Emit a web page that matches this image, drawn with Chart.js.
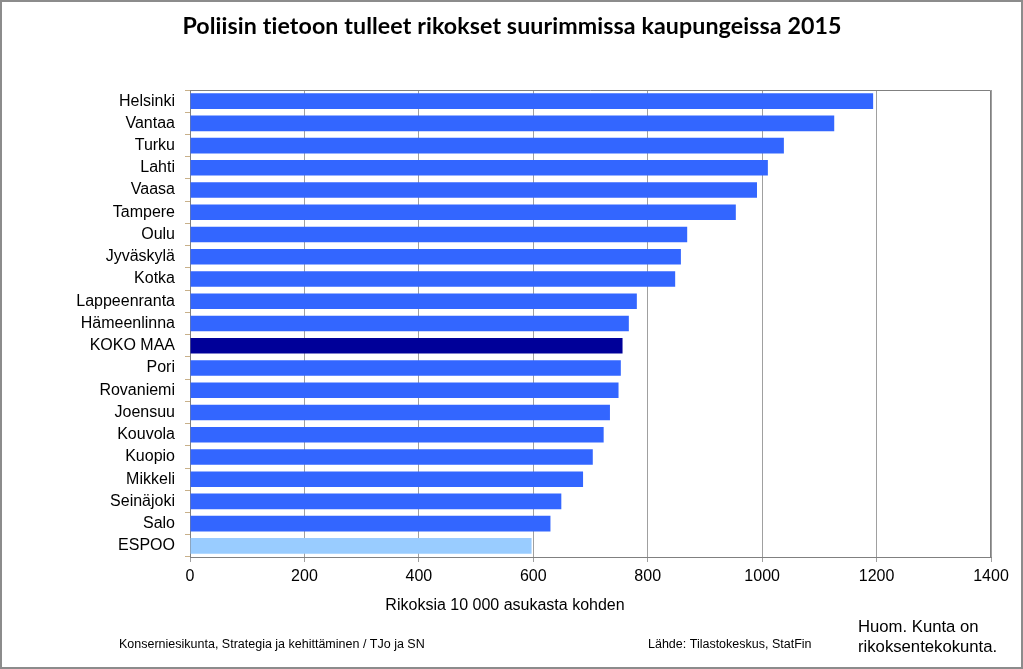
<!DOCTYPE html>
<html>
<head>
<meta charset="utf-8">
<script src="https://cdn.jsdelivr.net/npm/chart.js@4"></script>
<style>
  html, body { margin: 0; padding: 0; background: #fff; }
  canvas { display: block; }
</style>
</head>
<body>
<canvas id="myChart" width="1023" height="669"></canvas>
<script>
// Data
const cities = ["Helsinki", "Vantaa", "Turku", "Lahti", "Vaasa", "Tampere", "Oulu",
  "Jyväskylä", "Kotka", "Lappeenranta", "Hämeenlinna", "KOKO MAA", "Pori",
  "Rovaniemi", "Joensuu", "Kouvola", "Kuopio", "Mikkeli", "Seinäjoki", "Salo", "ESPOO"];
const crimes = [1194, 1126, 1038, 1010, 991, 954, 869, 858, 848, 781, 767, 756, 753,
  749, 734, 723, 704, 687, 649, 630, 597];
const xTicks = [0, 200, 400, 600, 800, 1000, 1200, 1400];

const titleText = "Poliisin tietoon tulleet rikokset suurimmissa kaupungeissa 2015";
const axisTitle = "Rikoksia 10 000 asukasta kohden";
const footLeft = "Konserniesikunta, Strategia ja kehittäminen / TJo ja SN";
const footSource = "Lähde: Tilastokeskus, StatFin";
const noteLines = ["Huom. Kunta on", "rikoksentekokunta."];

const labelFont = "'Liberation Sans', Arial, sans-serif";

// colour per bar: whole country dark, Espoo light
const barColors = cities.map((c) => {
  if (c === "KOKO MAA") return "#000099";
  if (c === "ESPOO") return "#99ccff";
  return "#3366ff";
});

// extra texts and frame
const decorations = {
  id: "decorations",
  afterDraw(chart) {
    const ctx = chart.ctx;
    const area = chart.chartArea;
    ctx.save();

    // plot border (top and right)
    ctx.strokeStyle = "#808080";
    ctx.lineWidth = 1;
    ctx.beginPath();
    ctx.moveTo(area.left, area.top + 0.5);
    ctx.lineTo(area.right - 0.5, area.top + 0.5);
    ctx.lineTo(area.right - 0.5, area.bottom);
    ctx.stroke();

    // title (small letter spacing keeps "ti" from turning into a ligature)
    ctx.fillStyle = "#000";
    ctx.textBaseline = "middle";
    ctx.textAlign = "center";
    ctx.font = "bold 23.2px Lato, 'Open Sans', sans-serif";
    ctx.letterSpacing = "0.1px";
    ctx.fillText(titleText, 512, 27);
    ctx.letterSpacing = "0px";

    // axis title
    ctx.font = "16px " + labelFont;
    ctx.fillText(axisTitle, 505, 606);

    // footer
    ctx.textAlign = "left";
    ctx.font = "12.5px " + labelFont;
    ctx.fillText(footLeft, 119, 645);
    ctx.fillText(footSource, 648, 645);

    ctx.font = "16.7px " + labelFont;
    ctx.fillText(noteLines[0], 858, 627);
    ctx.fillText(noteLines[1], 858, 647);

    // outer frame
    ctx.strokeStyle = "#8c8c8c";
    ctx.lineWidth = 2;
    ctx.strokeRect(1, 1, chart.width - 2, chart.height - 2);
    ctx.restore();
  }
};

window.addEventListener("load", function () {
  const data = {
    labels: cities,
    datasets: [
      {
        label: axisTitle,
        data: crimes,
        backgroundColor: barColors,
        borderWidth: 0,
        categoryPercentage: 0.7,
        barPercentage: 1.0,
      },
    ],
  };

  const config = {
    type: "bar",
    data,
    options: {
      indexAxis: "y",
      responsive: false,
      animation: false,
      devicePixelRatio: 1,
      layout: { padding: { top: 90, right: 32, bottom: 0, left: 0 } },
      plugins: {
        legend: { display: false },
        title: { display: false },
        tooltip: { enabled: false },
      },
      scales: {
        x: {
          min: 0,
          max: 1400,
          afterBuildTicks: (scale) => {
            scale.ticks = xTicks.map((v) => ({ value: v }));
          },
          afterFit: (scale) => { scale.height = 112; },
          ticks: {
            color: "#000",
            font: { family: labelFont, size: 16 },
            padding: 5,
            maxRotation: 0,
            callback: (value) => String(value),
          },
          grid: {
            color: "#a0a0a0",
            tickColor: "#a0a0a0",
            tickLength: 5,
          },
          border: { color: "#808080" },
        },
        y: {
          afterFit: (scale) => { scale.width = 190; },
          ticks: {
            color: "#000",
            font: { family: labelFont, size: 16 },
            padding: 10,
            autoSkip: false,
          },
          grid: {
            offset: true,
            drawOnChartArea: false,
            tickColor: "#c8b08a",
            tickLength: 5,
          },
          border: { color: "#808080" },
        },
      },
    },
    plugins: [decorations],
  };

  const myChart = new Chart(document.getElementById("myChart"), config);
});
</script>
</body>
</html>
